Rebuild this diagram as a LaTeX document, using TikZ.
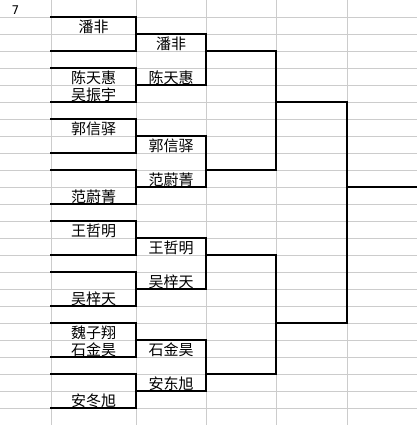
\documentclass[tikz,border=0pt]{standalone}
\usepackage{fontspec}
\newfontfamily\cjk{Noto Sans CJK SC}
\newfontfamily\digitfont{DejaVu Sans}
\begin{document}
\begin{tikzpicture}[x=1bp,y=-1bp,
  gridline/.style={draw=black!20, line width=0.9bp},
  bracket/.style={draw=black, line width=1.1bp, line cap=rect},
  player/.style={inner sep=0pt, font=\cjk\fontsize{15bp}{16bp}\selectfont},
  numlabel/.style={inner sep=0pt, font=\digitfont\fontsize{12bp}{14bp}\selectfont}]
\useasboundingbox (0,0) rectangle (417,425);
% grid
\foreach \k in {1,...,24} \draw[gridline] (0,17*\k) -- (417,17*\k);
\foreach \x in {51,136,206,276,347} \draw[gridline] (\x,0) -- (\x,425);
% label
\node[numlabel] (num) at (15.5,10) {7};
% round 1 names (column 2)
\node[player] (a1) at (93.5,26.5) {潘非};
\node[player] (a2) at (93.5,77.5) {陈天惠};
\node[player] (a3) at (93.5,94.5) {吴振宇};
\node[player] (a4) at (93.5,128.5) {郭信驿};
\node[player] (a5) at (93.5,196.5) {范蔚菁};
\node[player] (a6) at (93.5,230.5) {王哲明};
\node[player] (a7) at (93.5,298.5) {吴梓天};
\node[player] (a8) at (93.5,332.5) {魏子翔};
\node[player] (a9) at (93.5,349.5) {石金昊};
\node[player] (a10) at (93.5,400.5) {安冬旭};
% round 2 names (column 3)
\node[player] (b1) at (171,43.5) {潘非};
\node[player] (b2) at (171,77.5) {陈天惠};
\node[player] (b3) at (171,145.5) {郭信驿};
\node[player] (b4) at (171,179.5) {范蔚菁};
\node[player] (b5) at (171,247.5) {王哲明};
\node[player] (b6) at (171,281.5) {吴梓天};
\node[player] (b7) at (171,349.5) {石金昊};
\node[player] (b8) at (171,383.5) {安东旭};
% brackets column 2
\foreach \t/\b in {17/51,68/102,119/153,170/204,221/255,272/306,323/357,374/408}
  \draw[bracket] (51,\t) -- (136,\t) -- (136,\b) -- (51,\b);
% brackets column 3
\foreach \t/\b in {34/85,136/187,238/289,340/391}
  \draw[bracket] (136,\t) -- (206,\t) -- (206,\b) -- (136,\b);
% brackets column 4
\foreach \t/\b in {51/170,255/374}
  \draw[bracket] (206,\t) -- (276,\t) -- (276,\b) -- (206,\b);
% bracket column 5
\draw[bracket] (276,102) -- (347,102) -- (347,323) -- (276,323);
% final line
\coordinate (fin) at (417,187);
\draw[bracket] (347,187) -- (fin);
\end{tikzpicture}
\end{document}
